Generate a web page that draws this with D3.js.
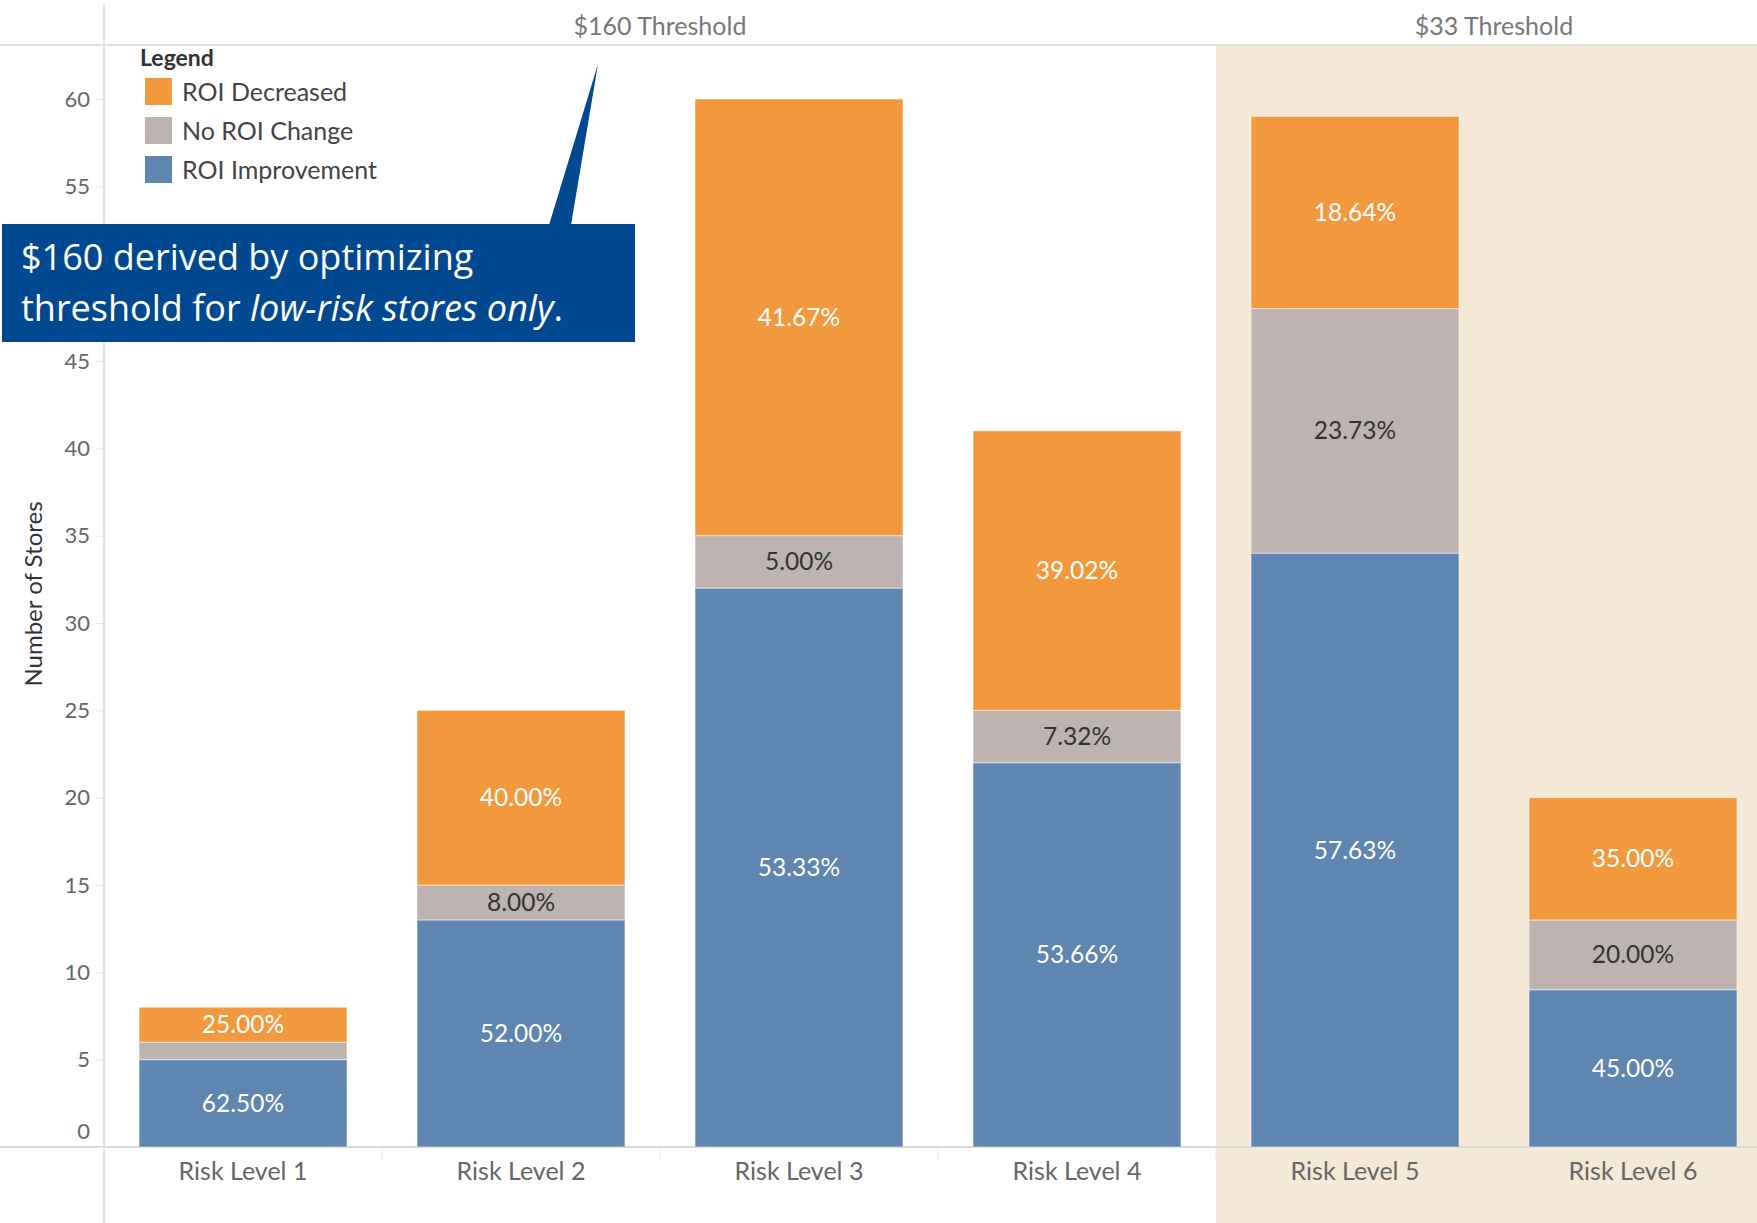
<!DOCTYPE html>
<html>
<head>
<meta charset="utf-8">
<script src="https://cdn.jsdelivr.net/npm/d3@7"></script>
<style>
  body { margin: 0; background: #fff; }
  text { font-family: Lato, 'Open Sans', sans-serif; }
</style>
</head>
<body>
<div id="chart"></div>
<script>
// data (number of stores)
const categories = ['Risk Level 1', 'Risk Level 2', 'Risk Level 3', 'Risk Level 4', 'Risk Level 5', 'Risk Level 6']
const roiImprovement = [5, 13, 32, 22, 34, 9]
const noRoiChange = [1, 2, 3, 3, 14, 4]
const roiDecreased = [2, 10, 25, 16, 11, 7]
const seriesNames = ['ROI Improvement', 'No ROI Change', 'ROI Decreased']
const legendOrder = ['ROI Decreased', 'No ROI Change', 'ROI Improvement']
const yTicks = [0, 5, 10, 15, 20, 25, 30, 35, 40, 45, 50, 55, 60]
const thresholds = [
  { label: '$160 Threshold', from: 'Risk Level 1', to: 'Risk Level 4' },
  { label: '$33 Threshold', from: 'Risk Level 5', to: 'Risk Level 6' }
]

const W = 1757
const H = 1223
const margin = { top: 45, left: 104, bottom: 76 }
const headerY = 45
const baseY = H - margin.bottom

const colors = {
  'ROI Decreased': '#f2993e',
  'No ROI Change': '#bdb4b1',
  'ROI Improvement': '#5f86b0'
}

const svg = d3.select('#chart').append('svg')
  .attr('width', W).attr('height', H)

const x = d3.scaleBand()
  .domain(categories)
  .range([margin.left, margin.left + 278 * categories.length])
  .paddingInner(0.252)
  .paddingOuter(0.126)

const y = d3.scaleLinear()
  .domain([0, 60])
  .range([baseY, 99])

// beige pane behind the $33 threshold columns
const bandStart = c => x(c) - x.step() * x.paddingInner() / 2
svg.append('rect')
  .attr('x', bandStart('Risk Level 5'))
  .attr('y', headerY)
  .attr('width', W - bandStart('Risk Level 5'))
  .attr('height', H - headerY)
  .attr('fill', '#f4e8d7')

// frame lines
svg.append('line').attr('x1', 0).attr('x2', W).attr('y1', headerY).attr('y2', headerY)
  .attr('stroke', '#e0e0e0').attr('stroke-width', 2)
svg.append('line').attr('x1', 0).attr('x2', W).attr('y1', baseY).attr('y2', baseY)
  .attr('stroke', '#d9d9d9').attr('stroke-width', 2)
svg.append('line').attr('x1', margin.left).attr('x2', margin.left).attr('y1', 5).attr('y2', H)
  .attr('stroke', '#e2e2e2').attr('stroke-width', 2)

// header text
thresholds.forEach(function(t) {
  const x0 = bandStart(t.from)
  const x1 = bandStart(t.to) + x.step()
  svg.append('text')
    .attr('x', (x0 + x1) / 2)
    .attr('y', 26)
    .attr('dy', '0.35em')
    .attr('text-anchor', 'middle')
    .attr('fill', '#777')
    .attr('font-size', '25px')
    .text(t.label)
})

// stacked data
const rows = categories.map((c, i) => ({
  cat: c,
  'ROI Improvement': roiImprovement[i],
  'No ROI Change': noRoiChange[i],
  'ROI Decreased': roiDecreased[i]
}))
const stack = d3.stack().keys(seriesNames)(rows)

const groups = svg.selectAll('.series')
  .data(stack)
  .enter()
  .append('g')
  .attr('class', 'series')

groups.selectAll('rect')
  .data(d => d.map(p => ({ key: d.key, p: p })))
  .enter()
  .append('rect')
  .attr('x', d => x(d.p.data.cat))
  .attr('width', x.bandwidth())
  .attr('y', d => y(d.p[1]))
  .attr('height', d => y(d.p[0]) - y(d.p[1]))
  .attr('fill', d => colors[d.key])
  .attr('stroke', 'rgba(255,255,255,0.5)')
  .attr('stroke-width', 1)

groups.selectAll('text')
  .data(d => d.map(p => ({ key: d.key, p: p })).filter(d => d.p[1] - d.p[0] >= 2))
  .enter()
  .append('text')
  .attr('x', d => x(d.p.data.cat) + x.bandwidth() / 2)
  .attr('y', d => (y(d.p[0]) + y(d.p[1])) / 2)
  .attr('dy', '0.35em')
  .attr('text-anchor', 'middle')
  .attr('font-size', '24.5px')
  .attr('fill', d => d.key === 'No ROI Change' ? '#333' : '#fff')
  .text(function(d) {
    const total = d.p.data['ROI Improvement'] + d.p.data['No ROI Change'] + d.p.data['ROI Decreased']
    return (100 * (d.p[1] - d.p[0]) / total).toFixed(2) + '%'
  })

// y axis
const yAxis = svg.append('g')
  .attr('transform', 'translate(' + margin.left + ',0)')
  .call(d3.axisLeft(y).tickValues(yTicks).tickSize(8).tickPadding(6))
yAxis.select('.domain').remove()
yAxis.selectAll('line').attr('stroke', '#e6e6e6')
yAxis.selectAll('text')
  .attr('font-size', '22px')
  .attr('fill', '#666')
  .attr('font-family', 'Lato, sans-serif')
  .attr('dy', d => d === 0 ? '-0.4em' : '0.32em')

svg.append('text')
  .attr('transform', 'translate(34,' + 594 + ') rotate(-90)')
  .attr('text-anchor', 'middle')
  .attr('dy', '0.35em')
  .attr('font-size', '24px')
  .attr('fill', '#333')
  .text('Number of Stores')

// x axis
const xAxis = svg.append('g')
  .attr('transform', 'translate(0,' + baseY + ')')
  .call(d3.axisBottom(x).tickSize(0).tickPadding(15))
xAxis.select('.domain').remove()
xAxis.selectAll('text')
  .attr('font-size', '25px')
  .attr('fill', '#666')
  .attr('font-family', 'Lato, sans-serif')
  .attr('dy', '0.71em')

// band separators under the axis
svg.selectAll('.sep')
  .data(categories.slice(1))
  .enter()
  .append('line')
  .attr('x1', d => bandStart(d)).attr('x2', d => bandStart(d))
  .attr('y1', baseY).attr('y2', baseY + 12)
  .attr('stroke', '#e6e6e6')

// legend
const legend = svg.append('g').attr('transform', 'translate(140,0)')
legend.append('text')
  .attr('x', 0).attr('y', 58)
  .attr('dy', '0.35em')
  .attr('font-size', '23px')
  .attr('font-weight', 'bold')
  .attr('fill', '#333')
  .text('Legend')
legendOrder.forEach(function(name, i) {
  legend.append('rect')
    .attr('x', 5).attr('y', 78 + i * 39)
    .attr('width', 27).attr('height', 27)
    .attr('fill', colors[name])
  legend.append('text')
    .attr('x', 42).attr('y', 92 + i * 39)
    .attr('dy', '0.35em')
    .attr('font-size', '25px')
    .attr('fill', '#444')
    .text(name)
})

// callout
svg.append('path')
  .attr('d', d3.line()([[549, 225], [571, 225], [598, 64]]) + 'Z')
  .attr('fill', '#004990')
svg.append('rect')
  .attr('x', 2).attr('y', 224)
  .attr('width', 633).attr('height', 118)
  .attr('fill', '#004990')
const callout = svg.append('text')
  .attr('x', 21)
  .attr('font-size', '36px')
  .attr('fill', '#fff')
  .style('font-family', "'Open Sans', sans-serif")
callout.append('tspan').attr('x', 21).attr('y', 270).text('$160 derived by optimizing')
const line2 = callout.append('tspan').attr('x', 21).attr('y', 321)
line2.append('tspan').text('threshold for ')
line2.append('tspan').attr('font-style', 'italic').text('low-risk stores only')
line2.append('tspan').text('.')
</script>
</body>
</html>
